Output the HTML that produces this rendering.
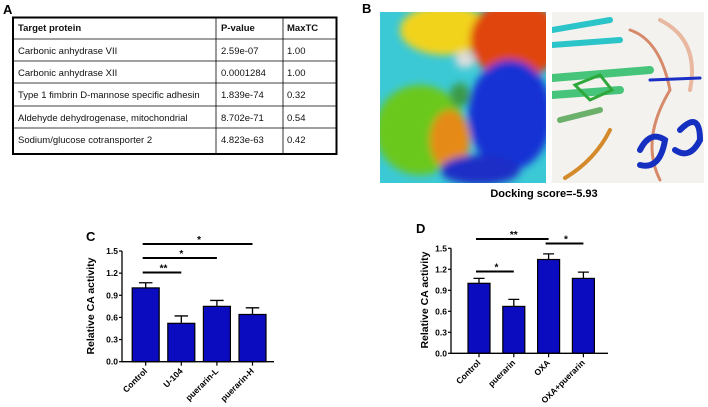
<!DOCTYPE html>
<html><head><meta charset="utf-8"><style>
body{margin:0;background:#fff;}
svg{display:block;font-family:"Liberation Sans",Arial,sans-serif;}
</style></head><body>
<svg width="708" height="407" viewBox="0 0 708 407">
<defs>
<filter id="bl" x="-20%" y="-20%" width="140%" height="140%"><feGaussianBlur stdDeviation="4"/></filter>
<clipPath id="cl"><rect x="380" y="12" width="166" height="171"/></clipPath>
<clipPath id="cr"><rect x="552" y="12" width="152" height="171"/></clipPath>
</defs>
<g>
<text x="3" y="14" font-size="13" font-weight="bold">A</text>
<g stroke="#000" fill="none">
<rect x="13" y="17.5" width="323.5" height="136.5" stroke-width="2"/>
<line x1="13" y1="39" x2="336.5" y2="39" stroke-width="0.8"/>
<line x1="13" y1="61" x2="336.5" y2="61" stroke-width="0.8"/>
<line x1="13" y1="83" x2="336.5" y2="83" stroke-width="0.8"/>
<line x1="13" y1="106" x2="336.5" y2="106" stroke-width="0.8"/>
<line x1="13" y1="128" x2="336.5" y2="128" stroke-width="0.8"/>
<line x1="216" y1="17.5" x2="216" y2="154" stroke-width="0.8"/>
<line x1="283" y1="17.5" x2="283" y2="154" stroke-width="0.8"/>
</g>
<g font-size="9.5" fill="#111">
<text x="18" y="31" font-weight="bold">Target protein</text><text x="221" y="31" font-weight="bold">P-value</text><text x="287" y="31" font-weight="bold">MaxTC</text>
<text x="18" y="54">Carbonic anhydrase VII</text><text x="221" y="54">2.59e-07</text><text x="287" y="54">1.00</text>
<text x="18" y="76">Carbonic anhydrase XII</text><text x="221" y="76">0.0001284</text><text x="287" y="76">1.00</text>
<text x="18" y="98">Type 1 fimbrin D-mannose specific adhesin</text><text x="221" y="98">1.839e-74</text><text x="287" y="98">0.32</text>
<text x="18" y="121">Aldehyde dehydrogenase, mitochondrial</text><text x="221" y="121">8.702e-71</text><text x="287" y="121">0.54</text>
<text x="18" y="143">Sodium/glucose cotransporter 2</text><text x="221" y="143">4.823e-63</text><text x="287" y="143">0.42</text>
</g>
</g>
<g>
<text x="362" y="13" font-size="13" font-weight="bold">B</text>
<g clip-path="url(#cl)">
<rect x="380" y="12" width="166" height="171" fill="#3bc9d6"/>
<g filter="url(#bl)">
<ellipse cx="445" cy="30" rx="45" ry="25" fill="#f2d31a"/>
<ellipse cx="515" cy="40" rx="45" ry="40" fill="#e0450f"/>
<ellipse cx="420" cy="130" rx="45" ry="45" fill="#6bc81e"/>
<ellipse cx="450" cy="140" rx="20" ry="30" fill="#e58a12"/>
<ellipse cx="510" cy="115" rx="42" ry="55" fill="#1530d4"/>
<ellipse cx="480" cy="170" rx="40" ry="15" fill="#1a2fc6"/>
<ellipse cx="465" cy="60" rx="10" ry="8" fill="#ddd"/>
<ellipse cx="460" cy="95" rx="10" ry="12" fill="#3a9a4a"/>
</g>
</g>
<g clip-path="url(#cr)">
<rect x="552" y="12" width="152" height="171" fill="#f4f2ee"/>
<g fill="none" stroke-linecap="round">
<path d="M552 30 L610 20" stroke="#2bc4c8" stroke-width="6"/>
<path d="M552 45 L620 40" stroke="#2bc4c8" stroke-width="6"/>
<path d="M552 78 L650 70" stroke="#45c47a" stroke-width="8"/>
<path d="M552 95 L620 90" stroke="#45c47a" stroke-width="8"/>
<path d="M560 120 L600 110" stroke="#6bb06b" stroke-width="6"/>
<path d="M610 130 Q595 160 565 178" stroke="#d48a2a" stroke-width="4"/>
<path d="M630 30 Q660 40 670 90 Q640 140 660 180" stroke="#d68a6a" stroke-width="3"/>
<path d="M660 20 Q700 40 690 90" stroke="#e8b8a0" stroke-width="4"/>
<path d="M650 80 L700 78" stroke="#1a2fc6" stroke-width="3"/>
<path d="M640 150 Q650 130 665 140 Q660 170 640 165" stroke="#1530c0" stroke-width="6"/>
<path d="M680 130 Q700 110 700 140 Q690 160 675 150" stroke="#1530c0" stroke-width="6"/>
<path d="M575 85 L600 75 L612 90 L590 100 Z" stroke="#2ea83a" stroke-width="3"/>
</g>
</g>
<text x="544" y="197" font-size="11" font-weight="bold" text-anchor="middle">Docking score=-5.93</text>
</g>
<g id="chartC"></g>
<g id="chartD"></g>
</svg>
<script>
const catsC = ["Control","U-104","puerarin-L","puerarin-H"];
const valsC = [1.00,0.52,0.75,0.64];
const errC = [0.07,0.10,0.08,0.09];
const sigC = [[0,1,"**"],[0,2,"*"],[0,3,"*"]];
const catsD = ["Control","puerarin","OXA","OXA+puerarin"];
const valsD = [1.00,0.67,1.34,1.07];
const errD = [0.07,0.10,0.08,0.09];
const sigD = [[0,2,"**"],[2,3,"*"],[0,1,"*"]];
const ticks = [0,0.3,0.6,0.9,1.2,1.5];
const tickLabels = ["0.0","0.3","0.6","0.9","1.2","1.5"];
const NS="http://www.w3.org/2000/svg";
function mk(p,t,a,txt){const e=document.createElementNS(NS,t);for(const k in a)e.setAttribute(k,a[k]);if(txt!=null)e.textContent=txt;p.appendChild(e);return e;}
function draw(g,cfg){
 const y=v=>cfg.y0-(v/1.5)*(cfg.y0-cfg.y15);
 const x=i=>cfg.x0+i*cfg.step;
 let l=mk(g,"text",{x:cfg.lx,y:cfg.ly,"font-size":13,"font-weight":"bold"},cfg.label);
 
 
 cfg.vals.forEach((v,i)=>{
  let b=mk(g,"rect",{x:x(i)-cfg.bw/2,y:y(v),width:cfg.bw,height:cfg.y0-y(v),fill:"#0b0bbf",stroke:"#000","stroke-width":1.2});
  
  
  let e=mk(g,"path",{d:`M${x(i)} ${y(v)} V${y(v+cfg.err[i])} M${x(i)-cfg.bw/4} ${y(v+cfg.err[i])} H${x(i)+cfg.bw/4}`,stroke:"#000","stroke-width":1.3,fill:"none"});
  
  
  mk(g,"line",{x1:x(i),x2:x(i),y1:cfg.y0,y2:cfg.y0+4,stroke:"#000","stroke-width":1.2});
  let t=mk(g,"text",{x:x(i)+2,y:cfg.y0+10,"font-size":8.5,"font-weight":"bold","text-anchor":"end",transform:`rotate(-45 ${x(i)+2} ${cfg.y0+10})`},cfg.cats[i]);
  
  
 });
 mk(g,"line",{x1:cfg.ax,x2:cfg.ax,y1:cfg.y15,y2:cfg.y0+0.6,stroke:"#000","stroke-width":1.3});
 let xa=mk(g,"line",{x1:cfg.ax,x2:cfg.xend,y1:cfg.y0,y2:cfg.y0,stroke:"#000","stroke-width":1.3});
 
 
 ticks.forEach((tv,i)=>{
  mk(g,"line",{x1:cfg.ax-3,x2:cfg.ax,y1:y(tv),y2:y(tv),stroke:"#000","stroke-width":1.2});
  let t=mk(g,"text",{x:cfg.ax-4,y:y(tv)+3,"font-size":8.5,"font-weight":"bold","text-anchor":"end"},tickLabels[i]);
  
  
 });
 let yl=mk(g,"text",{x:cfg.ylx,y:cfg.yly,"font-size":10.5,"font-weight":"bold","text-anchor":"middle",transform:`rotate(-90 ${cfg.ylx} ${cfg.yly})`},"Relative CA activity");
 
 
 cfg.sig.forEach((s,k)=>{
  const yy=cfg.sigY[k];
  let ln=mk(g,"line",{x1:x(s[0])-3,x2:x(s[1])+cfg.sigExt,y1:yy,y2:yy,stroke:"#000","stroke-width":2});
  
  
  let st=mk(g,"text",{x:(x(s[0])+x(s[1]))/2,y:yy-1,"font-size":10,"font-weight":"bold","text-anchor":"middle"},s[2]);
  
  
 });
}
draw(document.getElementById("chartC"),{cats:catsC,vals:valsC,err:errC,sig:sigC,sigY:[272.5,258,244],sigExt:0,
 y0:361.7,y15:251,x0:145.7,step:35.6,bw:27,ax:122,xend:274,lx:86,ly:241,label:"C",ylx:94,yly:306});
draw(document.getElementById("chartD"),{cats:catsD,vals:valsD,err:errD,sig:sigD,sigY:[239,243.5,271.5],sigExt:0,
 y0:353.3,y15:248.3,x0:479,step:34.8,bw:22,ax:451,xend:608,lx:416,ly:233,label:"D",ylx:428,yly:300});
</script>
</body></html>
